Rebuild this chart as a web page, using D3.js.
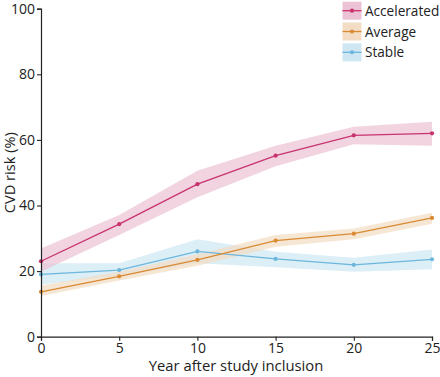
<!DOCTYPE html>
<html><head><meta charset="utf-8">
<script src="https://cdn.jsdelivr.net/npm/d3@7"></script>
<style>body{margin:0;background:#fff}svg{display:block;font-family:"Open Sans",sans-serif}</style>
</head><body><svg id="c" width="440" height="377"></svg>
<script>
const years = [0, 5, 10, 15, 20, 25];
const accelerated = [23.0, 34.3, 46.5, 55.2, 61.4, 62.0];
const acceleratedLow = [19.8, 31.0, 42.5, 52.0, 58.7, 58.2];
const acceleratedHigh = [26.9, 37.1, 50.6, 58.2, 64.0, 65.5];
const average = [13.7, 18.4, 23.4, 29.3, 31.4, 36.2];
const averageLow = [12.4, 17.1, 21.6, 27.4, 29.7, 34.4];
const averageHigh = [15.6, 19.8, 25.1, 31.0, 33.0, 37.8];
const stable = [19.0, 20.3, 26.0, 23.7, 21.9, 23.6];
const stableLow = [15.9, 18.6, 22.4, 21.2, 19.8, 20.6];
const stableHigh = [22.4, 22.4, 29.7, 25.9, 24.1, 26.6];
const seriesNames = ["Accelerated", "Average", "Stable"];
const xTicks = [0, 5, 10, 15, 20, 25];
const yTicks = [0, 20, 40, 60, 80, 100];

const series = [
  {name: seriesNames[0], v: accelerated, lo: acceleratedLow, hi: acceleratedHigh, line: "#c8336f", band: "#ebc3d4"},
  {name: seriesNames[1], v: average, lo: averageLow, hi: averageHigh, line: "#d98a32", band: "#f3ddc4"},
  {name: seriesNames[2], v: stable, lo: stableLow, hi: stableHigh, line: "#6db6dc", band: "#cfe7f3"}
];

const svg = d3.select("#c");
const m = {l: 41, r: 8, t: 8.7, b: 40.3};
const W = 440, H = 377;
const x = d3.scaleLinear().domain([0, 25]).range([m.l, W - m.r]);
const y = d3.scaleLinear().domain([0, 100]).range([H - m.b, m.t]);

// bands
series.slice().reverse().forEach(s => {
  const area = d3.area().x((d, i) => x(years[i])).y0((d, i) => y(s.lo[i])).y1((d, i) => y(s.hi[i]));
  svg.append("path").datum(s.v).attr("d", area).attr("fill", s.band).attr("opacity", 0.72);
});
series.slice().reverse().forEach(s => {
  const line = d3.line().x((d, i) => x(years[i])).y(d => y(d));
  svg.append("path").datum(s.v).attr("d", line).attr("fill", "none").attr("stroke", s.line).attr("stroke-width", 1.3);
  svg.selectAll(null).data(s.v).enter().append("circle")
    .attr("cx", (d, i) => x(years[i])).attr("cy", d => y(d)).attr("r", 2.1).attr("fill", s.line);
});

// axes
const xa = svg.append("g").attr("transform", `translate(0,${H - m.b})`)
  .call(d3.axisBottom(x).tickValues(xTicks).tickSize(4).tickPadding(2));
const ya = svg.append("g").attr("transform", `translate(${m.l},0)`)
  .call(d3.axisLeft(y).tickValues(yTicks).tickSize(4).tickPadding(2));
[xa, ya].forEach(a => {
  a.select(".domain").attr("stroke", "#222").attr("stroke-width", 1.2);
  a.selectAll(".tick line").attr("stroke", "#222").attr("stroke-width", 1.1);
  a.selectAll("text").attr("fill", "#222").style("font-size", "14px").style("font-family", "'Open Sans',sans-serif");
});

svg.append("text").attr("x", (x(0) + x(25)) / 2 - 0.5).attr("y", 371).attr("text-anchor", "middle")
  .attr("fill", "#222").style("font-size", "14.8px").text("Year after study inclusion");
svg.append("text").attr("transform", `translate(15,${(y(0) + y(100)) / 2}) rotate(-90)`).attr("text-anchor", "middle")
  .attr("fill", "#222").style("font-size", "14.6px").text("CVD risk (%)");

// legend
const lg = svg.append("g");
series.forEach((s, i) => {
  const gy = 1.7 + i * 20.8;
  lg.append("rect").attr("x", 342.5).attr("y", gy).attr("width", 19).attr("height", 18).attr("fill", s.band);
  lg.append("line").attr("x1", 342.5).attr("x2", 361.5).attr("y1", gy + 9).attr("y2", gy + 9).attr("stroke", s.line).attr("stroke-width", 1.3);
  lg.append("circle").attr("cx", 352).attr("cy", gy + 9).attr("r", 2.1).attr("fill", s.line);
  lg.append("text").attr("x", 365).attr("y", gy + 14).attr("fill", "#222").style("font-size", "13.6px").text(s.name);
});
</script></body></html>
